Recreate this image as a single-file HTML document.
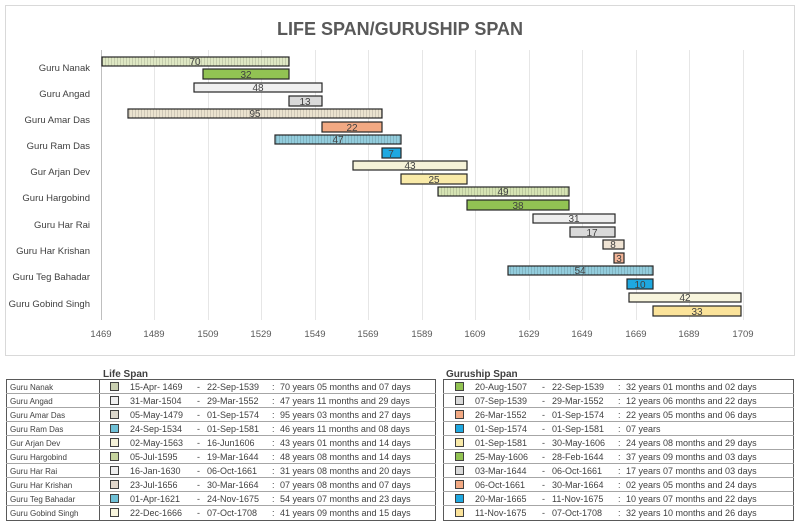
<!DOCTYPE html>
<html><head><meta charset="utf-8"><style>
body{margin:0;background:#fff;}
svg{display:block;font-family:"Liberation Sans",sans-serif;}
</style></head><body>
<svg width="800" height="526" viewBox="0 0 800 526" xmlns="http://www.w3.org/2000/svg">
<defs>
<pattern id="hatch" width="3" height="3" patternUnits="userSpaceOnUse"><line x1="0.5" y1="0" x2="0.5" y2="3" stroke="#000" stroke-opacity="0.12" stroke-width="1"/></pattern>
</defs>
<rect x="5.5" y="5.5" width="789" height="350" fill="#fff" stroke="#d9d9d9"/>
<text x="400" y="35" text-anchor="middle" font-size="18" font-weight="bold" fill="#595959" textLength="246" lengthAdjust="spacingAndGlyphs">LIFE SPAN/GURUSHIP SPAN</text>
<g stroke="#e6e6e6" stroke-width="1">
<line x1="154.5" y1="50" x2="154.5" y2="320"/><line x1="208.5" y1="50" x2="208.5" y2="320"/>
<line x1="261.5" y1="50" x2="261.5" y2="320"/><line x1="315.5" y1="50" x2="315.5" y2="320"/>
<line x1="368.5" y1="50" x2="368.5" y2="320"/><line x1="422.5" y1="50" x2="422.5" y2="320"/>
<line x1="475.5" y1="50" x2="475.5" y2="320"/><line x1="529.5" y1="50" x2="529.5" y2="320"/>
<line x1="582.5" y1="50" x2="582.5" y2="320"/><line x1="636.5" y1="50" x2="636.5" y2="320"/>
<line x1="689.5" y1="50" x2="689.5" y2="320"/><line x1="743.5" y1="50" x2="743.5" y2="320"/>
</g>
<line x1="101.5" y1="50" x2="101.5" y2="320" stroke="#bfbfbf"/>
<g font-size="9.5" fill="#595959" text-anchor="middle">
<text x="101" y="337">1469</text><text x="154" y="337">1489</text><text x="208" y="337">1509</text><text x="261" y="337">1529</text><text x="315" y="337">1549</text><text x="368" y="337">1569</text><text x="422" y="337">1589</text><text x="475" y="337">1609</text><text x="529" y="337">1629</text><text x="582" y="337">1649</text><text x="636" y="337">1669</text><text x="689" y="337">1689</text><text x="743" y="337">1709</text>
</g>
<g font-size="9.5" fill="#404040" text-anchor="end">
<text x="90" y="71">Guru Nanak</text><text x="90" y="97">Guru Angad</text><text x="90" y="123">Guru Amar Das</text><text x="90" y="149">Guru Ram Das</text><text x="90" y="175">Gur Arjan Dev</text><text x="90" y="201">Guru Hargobind</text><text x="90" y="228">Guru Har Rai</text><text x="90" y="254">Guru Har Krishan</text><text x="90" y="280">Guru Teg Bahadar</text><text x="90" y="307">Guru Gobind Singh</text>
</g>
<g stroke="#262626" stroke-width="1.2">
<rect x="102" y="57" width="187" height="9" fill="#dfe8c4"/><rect x="102" y="57" width="187" height="9" fill="url(#hatch)" stroke="none"/>
<rect x="194" y="83" width="128" height="9" fill="#f0f0f0"/>
<rect x="128" y="109" width="254" height="9" fill="#ebe3cf"/><rect x="128" y="109" width="254" height="9" fill="url(#hatch)" stroke="none"/>
<rect x="275" y="135" width="126" height="9" fill="#93cddd"/><rect x="275" y="135" width="126" height="9" fill="url(#hatch)" stroke="none"/>
<rect x="353" y="161" width="114" height="9" fill="#f5f2d8"/>
<rect x="438" y="187" width="131" height="9" fill="#d6e4b4"/><rect x="438" y="187" width="131" height="9" fill="url(#hatch)" stroke="none"/>
<rect x="533" y="214" width="82" height="9" fill="#eeeeee"/>
<rect x="603" y="240" width="21" height="9" fill="#efe3d3"/>
<rect x="508" y="266" width="145" height="9" fill="#93cddd"/><rect x="508" y="266" width="145" height="9" fill="url(#hatch)" stroke="none"/>
<rect x="629" y="293" width="112" height="9" fill="#f8f5dd"/>
<rect x="203" y="69" width="86" height="10" fill="#92c353"/>
<rect x="289" y="96" width="33" height="10" fill="#d9d9d9"/>
<rect x="322" y="122" width="60" height="10" fill="#f2a983"/>
<rect x="382" y="148" width="19" height="10" fill="#1ea8e0"/>
<rect x="401" y="174" width="66" height="10" fill="#f9eaa8"/>
<rect x="467" y="200" width="102" height="10" fill="#92c353"/>
<rect x="570" y="227" width="45" height="10" fill="#d9d9d9"/>
<rect x="614" y="253" width="10" height="10" fill="#f2b497"/>
<rect x="627" y="279" width="26" height="10" fill="#1ea8e0"/>
<rect x="653" y="306" width="88" height="10" fill="#fbe39a"/>
</g>
<g font-size="10" text-anchor="middle" fill="#404040">
<text x="195" y="65">70</text><text x="246" y="78">32</text>
<text x="258" y="91">48</text><text x="305" y="105">13</text>
<text x="255" y="117">95</text><text x="352" y="131">22</text>
<text x="338" y="143">47</text><text x="391" y="157">7</text>
<text x="410" y="169">43</text><text x="434" y="183">25</text>
<text x="503" y="195">49</text><text x="518" y="209">38</text>
<text x="574" y="222">31</text><text x="592" y="236">17</text>
<text x="613" y="248">8</text><text x="619" y="262">3</text>
<text x="580" y="274">54</text><text x="640" y="288">10</text>
<text x="685" y="301">42</text><text x="697" y="315">33</text>
</g>
<text x="103" y="377" font-size="10" font-weight="bold" fill="#404040">Life Span</text>
<text x="446" y="377" font-size="10" font-weight="bold" fill="#404040">Guruship Span</text>
<g fill="none" stroke="#595959" stroke-width="1">
<rect x="6.5" y="379.5" width="429" height="141"/>
<line x1="99.5" y1="379.5" x2="99.5" y2="520.5"/>
<rect x="443.5" y="379.5" width="350" height="141"/>
</g>
<g stroke="#a6a6a6" stroke-width="1">
<line x1="6" y1="393.5" x2="436" y2="393.5"/><line x1="6" y1="407.5" x2="436" y2="407.5"/><line x1="6" y1="421.5" x2="436" y2="421.5"/><line x1="6" y1="435.5" x2="436" y2="435.5"/><line x1="6" y1="449.5" x2="436" y2="449.5"/><line x1="6" y1="463.5" x2="436" y2="463.5"/><line x1="6" y1="477.5" x2="436" y2="477.5"/><line x1="6" y1="491.5" x2="436" y2="491.5"/><line x1="6" y1="505.5" x2="436" y2="505.5"/>
<line x1="443" y1="393.5" x2="794" y2="393.5"/><line x1="443" y1="407.5" x2="794" y2="407.5"/><line x1="443" y1="421.5" x2="794" y2="421.5"/><line x1="443" y1="435.5" x2="794" y2="435.5"/><line x1="443" y1="449.5" x2="794" y2="449.5"/><line x1="443" y1="463.5" x2="794" y2="463.5"/><line x1="443" y1="477.5" x2="794" y2="477.5"/><line x1="443" y1="491.5" x2="794" y2="491.5"/><line x1="443" y1="505.5" x2="794" y2="505.5"/>
</g>
<g stroke="#404040" stroke-width="1">
<rect x="110.5" y="382.5" width="8" height="8" fill="#c9cfb0"/><rect x="110.5" y="396.5" width="8" height="8" fill="#f0f0f0"/><rect x="110.5" y="410.5" width="8" height="8" fill="#dcd8cc"/><rect x="110.5" y="424.5" width="8" height="8" fill="#6fc0d6"/><rect x="110.5" y="438.5" width="8" height="8" fill="#f5f2d8"/><rect x="110.5" y="452.5" width="8" height="8" fill="#c6d49e"/><rect x="110.5" y="466.5" width="8" height="8" fill="#eeeeee"/><rect x="110.5" y="480.5" width="8" height="8" fill="#e2d8cc"/><rect x="110.5" y="494.5" width="8" height="8" fill="#6fc0d6"/><rect x="110.5" y="508.5" width="8" height="8" fill="#f8f5dd"/>
<rect x="455.5" y="382.5" width="8" height="8" fill="#92c353"/><rect x="455.5" y="396.5" width="8" height="8" fill="#d9d9d9"/><rect x="455.5" y="410.5" width="8" height="8" fill="#f2a983"/><rect x="455.5" y="424.5" width="8" height="8" fill="#1ea8e0"/><rect x="455.5" y="438.5" width="8" height="8" fill="#f9eaa8"/><rect x="455.5" y="452.5" width="8" height="8" fill="#92c353"/><rect x="455.5" y="466.5" width="8" height="8" fill="#d9d9d9"/><rect x="455.5" y="480.5" width="8" height="8" fill="#f2a983"/><rect x="455.5" y="494.5" width="8" height="8" fill="#1ea8e0"/><rect x="455.5" y="508.5" width="8" height="8" fill="#fbe39a"/>
</g>
<g font-size="8" fill="#404040">
<text x="10" y="390">Guru Nanak</text><text x="10" y="404">Guru Angad</text><text x="10" y="418">Guru Amar Das</text><text x="10" y="432">Guru Ram Das</text><text x="10" y="446">Gur Arjan Dev</text><text x="10" y="460">Guru Hargobind</text><text x="10" y="474">Guru Har Rai</text><text x="10" y="488">Guru Har Krishan</text><text x="10" y="502">Guru Teg Bahadar</text><text x="10" y="516">Guru Gobind Singh</text>
</g>
<g font-size="9" fill="#404040">
<text y="390"><tspan x="130">15-Apr- 1469</tspan><tspan x="197">-</tspan><tspan x="207">22-Sep-1539</tspan><tspan x="272">:</tspan><tspan x="280">70 years 05 months and 07 days</tspan></text>
<text y="404"><tspan x="130">31-Mar-1504</tspan><tspan x="197">-</tspan><tspan x="207">29-Mar-1552</tspan><tspan x="272">:</tspan><tspan x="280">47 years 11 months and 29 days</tspan></text>
<text y="418"><tspan x="130">05-May-1479</tspan><tspan x="197">-</tspan><tspan x="207">01-Sep-1574</tspan><tspan x="272">:</tspan><tspan x="280">95 years 03 months and 27 days</tspan></text>
<text y="432"><tspan x="130">24-Sep-1534</tspan><tspan x="197">-</tspan><tspan x="207">01-Sep-1581</tspan><tspan x="272">:</tspan><tspan x="280">46 years 11 months and 08 days</tspan></text>
<text y="446"><tspan x="130">02-May-1563</tspan><tspan x="197">-</tspan><tspan x="207">16-Jun1606</tspan><tspan x="272">:</tspan><tspan x="280">43 years 01 months and 14 days</tspan></text>
<text y="460"><tspan x="130">05-Jul-1595</tspan><tspan x="197">-</tspan><tspan x="207">19-Mar-1644</tspan><tspan x="272">:</tspan><tspan x="280">48 years 08 months and 14 days</tspan></text>
<text y="474"><tspan x="130">16-Jan-1630</tspan><tspan x="197">-</tspan><tspan x="207">06-Oct-1661</tspan><tspan x="272">:</tspan><tspan x="280">31 years 08 months and 20 days</tspan></text>
<text y="488"><tspan x="130">23-Jul-1656</tspan><tspan x="197">-</tspan><tspan x="207">30-Mar-1664</tspan><tspan x="272">:</tspan><tspan x="280">07 years 08 months and 07 days</tspan></text>
<text y="502"><tspan x="130">01-Apr-1621</tspan><tspan x="197">-</tspan><tspan x="207">24-Nov-1675</tspan><tspan x="272">:</tspan><tspan x="280">54 years 07 months and 23 days</tspan></text>
<text y="516"><tspan x="130">22-Dec-1666</tspan><tspan x="197">-</tspan><tspan x="207">07-Oct-1708</tspan><tspan x="272">:</tspan><tspan x="280">41 years 09 months and 15 days</tspan></text>
<text y="390"><tspan x="475">20-Aug-1507</tspan><tspan x="542">-</tspan><tspan x="552">22-Sep-1539</tspan><tspan x="618">:</tspan><tspan x="626">32 years 01 months and 02 days</tspan></text>
<text y="404"><tspan x="475">07-Sep-1539</tspan><tspan x="542">-</tspan><tspan x="552">29-Mar-1552</tspan><tspan x="618">:</tspan><tspan x="626">12 years 06 months and 22 days</tspan></text>
<text y="418"><tspan x="475">26-Mar-1552</tspan><tspan x="542">-</tspan><tspan x="552">01-Sep-1574</tspan><tspan x="618">:</tspan><tspan x="626">22 years 05 months and 06 days</tspan></text>
<text y="432"><tspan x="475">01-Sep-1574</tspan><tspan x="542">-</tspan><tspan x="552">01-Sep-1581</tspan><tspan x="618">:</tspan><tspan x="626">07 years</tspan></text>
<text y="446"><tspan x="475">01-Sep-1581</tspan><tspan x="542">-</tspan><tspan x="552">30-May-1606</tspan><tspan x="618">:</tspan><tspan x="626">24 years 08 months and 29 days</tspan></text>
<text y="460"><tspan x="475">25-May-1606</tspan><tspan x="542">-</tspan><tspan x="552">28-Feb-1644</tspan><tspan x="618">:</tspan><tspan x="626">37 years 09 months and 03 days</tspan></text>
<text y="474"><tspan x="475">03-Mar-1644</tspan><tspan x="542">-</tspan><tspan x="552">06-Oct-1661</tspan><tspan x="618">:</tspan><tspan x="626">17 years 07 months and 03 days</tspan></text>
<text y="488"><tspan x="475">06-Oct-1661</tspan><tspan x="542">-</tspan><tspan x="552">30-Mar-1664</tspan><tspan x="618">:</tspan><tspan x="626">02 years 05 months and 24 days</tspan></text>
<text y="502"><tspan x="475">20-Mar-1665</tspan><tspan x="542">-</tspan><tspan x="552">11-Nov-1675</tspan><tspan x="618">:</tspan><tspan x="626">10 years 07 months and 22 days</tspan></text>
<text y="516"><tspan x="475">11-Nov-1675</tspan><tspan x="542">-</tspan><tspan x="552">07-Oct-1708</tspan><tspan x="618">:</tspan><tspan x="626">32 years 10 months and 26 days</tspan></text>
</g>
</svg>
</body></html>
